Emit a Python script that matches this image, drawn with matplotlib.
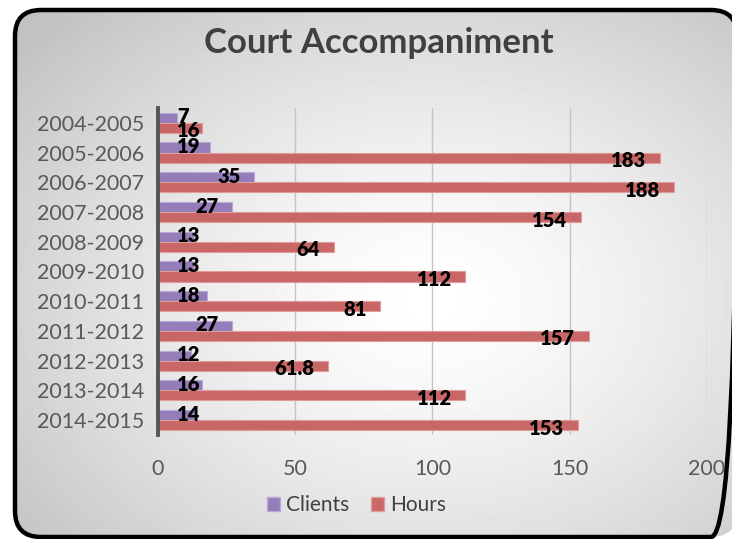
import numpy as np
import matplotlib
matplotlib.use("Agg")
import matplotlib.pyplot as plt
from matplotlib.patches import FancyBboxPatch, Patch

plt.rcParams['font.family'] = ['Lato', 'DejaVu Sans']

seasons = ["2004-2005", "2005-2006", "2006-2007", "2007-2008", "2008-2009", "2009-2010",
           "2010-2011", "2011-2012", "2012-2013", "2013-2014", "2014-2015"]
clients = [7, 19, 35, 27, 13, 13, 18, 27, 12, 16, 14]
hours = [16, 183, 188, 154, 64, 112, 81, 157, 61.8, 112, 153]

purple = "#957dba"
red = "#c96767"

fig = plt.figure(figsize=(7.32, 5.39), dpi=100)

# background: rounded frame with a radial grey gradient
bg = fig.add_axes([0, 0, 1, 1], zorder=0)
bg.set_xlim(0, 732)
bg.set_ylim(539, 0)
bg.axis("off")
yy, xx = np.mgrid[0:539, 0:732]
r = np.sqrt(((xx - 430) / 560.0) ** 2 + ((yy - 300) / 420.0) ** 2)
shade = np.clip(1.0 - 0.26 * r ** 1.4, 0.76, 1.0)
img = bg.imshow(shade, cmap="gray", vmin=0, vmax=1, extent=(0, 732, 539, 0), aspect="auto")
frame = FancyBboxPatch((15, 10), 722, 527, boxstyle="round,pad=0,rounding_size=26",
                       facecolor="none", edgecolor="black", linewidth=3.2)
bg.add_patch(frame)
img.set_clip_path(frame)

ax = fig.add_axes([0.2158, 0.193, 0.75, 0.6067], zorder=1)
ax.patch.set_alpha(0)
y = np.arange(len(seasons))
h = 0.34
ax.barh(y - h / 2, clients, height=h, color=purple, edgecolor="#b9a9d6", linewidth=0.8, label="Clients")
ax.barh(y + h / 2, hours, height=h, color=red, edgecolor="#e09c9c", linewidth=0.8, label="Hours")

def put_labels(vals, offs, dy):
    for yi, v in zip(y, vals):
        txt = f"{v:g}"
        xr = max(v - 5.0, 7 + 4.2 * len(txt))
        ax.text(xr, yi + offs + dy, txt, ha="right", va="center", fontsize=14.5,
                fontweight="heavy", color="black")

put_labels(clients, -h / 2, -0.03)
put_labels(hours, h / 2, 0.1)

ax.set_xlim(0, 200)
ax.set_ylim(len(seasons) - 0.5, -0.5)
ax.set_xticks([0, 50, 100, 150, 200])
ax.set_yticks(y)
ax.set_yticklabels(seasons)
ax.tick_params(axis="both", length=0, labelsize=15.5, colors="#595959")
ax.tick_params(axis="x", pad=17)
ax.tick_params(axis="y", pad=10)
ax.grid(axis="x", color="#c4c4c4", linewidth=1)
ax.set_axisbelow(True)
for s in ["top", "right", "bottom"]:
    ax.spines[s].set_visible(False)
ax.spines["left"].set_color("#555555")
ax.spines["left"].set_linewidth(2.8)

fig.text(0.518, 0.92, "Court Accompaniment", ha="center", va="center",
         fontsize=25, fontweight="bold", color="#404040")

handles = [Patch(facecolor=purple, edgecolor="#b9a9d6"), Patch(facecolor=red, edgecolor="#e09c9c")]
fig.legend(handles, ["Clients", "Hours"], loc="center", bbox_to_anchor=(0.487, 0.063),
           ncol=2, frameon=False, fontsize=15, handlelength=0.65, handleheight=0.65,
           handletextpad=0.3, columnspacing=1.0, labelcolor="#404040")

fig.savefig("out.png", dpi=100)
